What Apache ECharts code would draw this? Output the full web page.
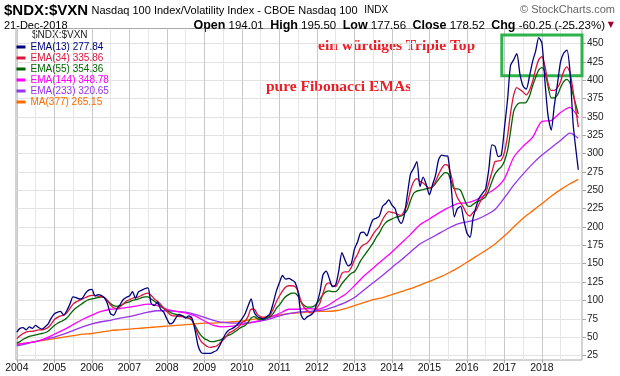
<!DOCTYPE html>
<html>
<head>
<meta charset="utf-8">
<script src="https://cdn.jsdelivr.net/npm/echarts@6/dist/echarts.min.js"></script>
<style>
  html, body { margin: 0; padding: 0; background: #fff; }
  #chart { width: 620px; height: 376px; }
</style>
</head>
<body>
<div id="chart"></div>
<script>
// Nasdaq 100 / VXN ratio with Fibonacci EMAs (weekly)
const years = [2004, 2005, 2006, 2007, 2008, 2009, 2010, 2011, 2012, 2013, 2014, 2015, 2016, 2017, 2018];
const yTicks = [25, 50, 75, 100, 125, 150, 175, 200, 225, 250, 275, 300, 325, 350, 375, 400, 425, 450];
const lastDate = "2018-12-21";

// monthly points, last one is the final bar
const ema13 = [
  57, 62, 63, 60, 64, 62, 66, 63, 61, 64, 68, 76,
  82, 84, 85, 80, 86, 95, 105, 104, 102, 103, 110, 114,
  115, 106, 108, 107, 104, 96, 82, 80, 88, 94, 101, 104,
  106, 112, 103, 112, 114, 116, 117, 96, 93, 98, 88, 84,
  75, 68, 70, 77, 81, 79, 76, 79, 76, 60, 38, 29,
  28, 28, 28, 30, 32, 39, 48, 56, 60, 62, 65, 69,
  75, 82, 92, 102, 84, 78, 76, 75, 78, 82, 96, 112,
  124, 134, 129, 130, 128, 125, 112, 80, 74, 78, 80, 84,
  96, 112, 135, 140, 130, 119, 121, 140, 165, 155, 147, 150,
  170, 180, 192, 193, 188, 200, 210, 212, 215, 228, 232, 237,
  230, 225, 212, 205, 216, 245, 272, 280, 289, 255, 268, 258,
  244, 258, 270, 292, 298, 297, 296, 255, 214, 225, 228, 210,
  192, 186, 212, 228, 240, 246, 252, 278, 312, 310, 296, 298,
  335, 375, 420, 428, 436, 408, 392, 388, 405, 425, 440, 458,
  450, 395, 352, 332, 365, 395, 425, 437, 441, 412, 340, 278
];
const ema34 = [
  48, 52, 55, 57, 58, 58, 59, 60, 60, 61, 63, 68,
  74, 77, 79, 80, 83, 89, 95, 98, 100, 102, 104, 106,
  107, 107, 106, 105, 104, 100, 94, 90, 89, 91, 95, 99,
  101, 103, 104, 105, 107, 109, 110, 107, 102, 99, 95, 90,
  85, 81, 79, 79, 78, 78, 77, 76, 74, 64, 52, 44,
  40, 37, 36, 37, 38, 42, 46, 51, 56, 58, 61, 64,
  70, 72, 78, 88, 88, 81, 78, 77, 78, 80, 88, 98,
  106, 113, 118, 120, 120, 119, 113, 98, 90, 86, 83, 84,
  90, 97, 110, 122, 124, 120, 119, 126, 137, 139, 139, 145,
  155, 163, 172, 176, 178, 183, 190, 196, 201, 210, 217, 221,
  220, 219, 217, 216, 222, 232, 250, 262, 266, 262, 260, 256,
  253, 255, 262, 272, 280, 285, 284, 270, 252, 240, 233, 226,
  218, 215, 220, 223, 232, 240, 246, 260, 275, 289, 290, 291,
  302, 325, 355, 380, 390, 387, 384, 380, 386, 398, 415, 428,
  432, 418, 396, 386, 386, 390, 398, 412, 418, 410, 385, 336
];
const ema55 = [
  42, 44, 47, 49, 51, 52, 53, 54, 55, 56, 58, 62,
  66, 69, 71, 73, 76, 81, 86, 90, 93, 96, 99, 101,
  102, 103, 104, 105, 104, 100, 96, 93, 92, 93, 95, 97,
  98, 100, 101, 102, 104, 105, 105, 102, 99, 96, 93, 89,
  86, 84, 82, 81, 80, 79, 77, 76, 73, 66, 58, 52,
  48, 46, 44, 44, 45, 46, 48, 51, 53, 55, 58, 61,
  64, 66, 70, 76, 78, 75, 74, 74, 76, 78, 82, 89,
  94, 100, 105, 108, 110, 110, 106, 98, 93, 91, 91, 92,
  96, 102, 108, 112, 113, 112, 112, 116, 123, 128, 133, 137,
  139, 146, 154, 160, 166, 172, 178, 186, 192, 200, 206, 209,
  211, 213, 214, 215, 218, 224, 236, 246, 249, 250, 251, 252,
  253, 255, 259, 265, 270, 274, 273, 262, 252, 252, 250, 240,
  230, 228, 231, 234, 236, 238, 241, 250, 262, 272, 278, 282,
  290, 305, 330, 358, 366, 369, 369, 370, 378, 392, 404, 414,
  417, 410, 392, 376, 376, 380, 390, 398, 401, 396, 380, 354
];
// quarterly points (Jan, Apr, Jul, Oct) plus the final bar
const ema144 = [
  40, 42, 44, 48,   54, 60, 67, 74,   80, 85, 88, 89,   91, 93, 95, 93,
  88, 85, 83, 79,   72, 66, 64, 65,   67, 70, 73, 77,   82, 88, 88, 89,
  88, 92, 100, 108, 120, 133, 144, 155, 166, 178, 190, 203, 211, 219, 226, 232,
  233, 237, 244, 252, 266, 295, 310, 322, 344, 345, 356, 363, 349
];
const ema233 = [
  38, 41, 44, 47,   50, 54, 59, 64,   68, 71, 73, 76,   78, 81, 84, 86,
  86, 85, 84, 81,   77, 73, 70, 69,   69, 70, 72, 75,   79, 82, 84, 85,
  86, 88, 92, 97,   104, 114, 124, 134, 145, 155, 166, 177, 184, 191, 198, 204,
  207, 210, 216, 224, 240, 257, 272, 286, 298, 308, 318, 328, 321
];
const ma377 = [
  40, 42, 44, 46,   48, 50, 52, 54,   55, 57, 59, 60,   61, 62, 63, 64,
  65, 66, 67, 68,   69, 69, 70, 71,   72, 74, 76, 78,   80, 82, 83, 84,
  85, 85, 86, 89,   93, 97, 101, 104, 108, 112, 116, 121, 126, 131, 137, 144,
  152, 160, 168, 177, 188, 200, 212, 222, 232, 242, 251, 259, 265
];

const names = ["EMA(13) 277.84", "EMA(34) 335.86", "EMA(55) 354.36", "EMA(144) 348.78", "EMA(233) 320.65", "MA(377) 265.15"];
const colors = ["#00007f", "#dc143c", "#006400", "#ff00ff", "#9933ee", "#ff6a00"];

function pad(n) { return n < 10 ? "0" + n : "" + n; }
let months = [];
let quarters = [];
years.forEach(function (y) {
  for (let m = 1; m <= 12; m++) months.push(y + "-" + pad(m) + "-01");
  [1, 4, 7, 10].forEach(function (m) { quarters.push(y + "-" + pad(m) + "-01"); });
});
months[months.length - 1] = lastDate;
quarters.push(lastDate);

function pairs(dates, vals) {
  return vals.map(function (v, i) { return [dates[i], v]; });
}

let yearStarts = years.map(function (y) { return y + "-01-01"; });
let midYears = years.map(function (y) { return y + "-07-01"; });

let chart = echarts.init(document.getElementById("chart"));
let font = "'Liberation Sans', Arial, sans-serif";
let serif = "'Liberation Serif', 'Times New Roman', serif";

let seriesData = [
  pairs(months, ema13), pairs(months, ema34), pairs(months, ema55),
  pairs(quarters, ema144), pairs(quarters, ema233), pairs(quarters, ma377)
];
let series = [];
for (let i = 5; i >= 0; i--) {
  let s = {
    name: names[i],
    type: "line",
    data: seriesData[i],
    showSymbol: false,
    symbol: "none",
    smooth: 0.25,
    lineStyle: { color: colors[i], width: 1.3 },
    itemStyle: { color: colors[i] },
    z: 10 - i
  };
  if (i === 0) {
    // green "triple top" box
    s.markArea = {
      silent: true,
      itemStyle: { color: "rgba(0,0,0,0)", borderColor: "#2db34a", borderWidth: 3 },
      data: [[{ coord: ["2016-12-06", 461.5] }, { coord: ["2019-01-26", 406] }]]
    };
  }
  series.push(s);
}

let option = {
  animation: false,
  textStyle: { fontFamily: font },
  grid: {
    left: 16, right: 38, top: 28.5, bottom: 16,
    show: true, borderColor: "#a8a8a8", borderWidth: 1, backgroundColor: "#fff"
  },
  legend: {
    orient: "vertical",
    left: 16.5, top: 41.5,
    padding: 0,
    itemGap: 0,
    itemWidth: 9,
    itemHeight: 3,
    icon: "rect",
    selectedMode: false,
    data: names.map(function (n, i) {
      return { name: n, textStyle: { color: colors[i] } };
    }),
    textStyle: { fontSize: 10, lineHeight: 11, fontFamily: font }
  },
  xAxis: [
    {
      type: "time",
      min: "2003-12-24",
      max: "2019-01-26",
      axisLine: { show: false },
      axisTick: { show: true, length: 3, lineStyle: { color: "#a8a8a8" }, customValues: yearStarts },
      axisLabel: {
        customValues: yearStarts,
        formatter: "{yyyy}",
        color: "#111",
        fontSize: 10.5,
        margin: 3
      },
      splitLine: { show: true, lineStyle: { color: "#c9c9c9", width: 1 } }
    },
    {
      type: "time",
      min: "2003-12-24",
      max: "2019-01-26",
      axisLine: { show: false },
      axisTick: { show: false, customValues: midYears },
      axisLabel: { show: false, customValues: midYears },
      splitLine: { show: true, lineStyle: { color: "#e6e6e6", width: 1 } }
    }
  ],
  yAxis: {
    type: "value",
    position: "right",
    min: 18.9,
    max: 470.4,
    axisLine: { show: false },
    axisTick: { show: true, length: 4, inside: false, lineStyle: { color: "#a8a8a8" }, customValues: yTicks },
    axisLabel: { customValues: yTicks, color: "#222", fontSize: 10, margin: 5 },
    splitLine: { show: true, lineStyle: { color: "#e3e3e3", width: 1 } }
  },
  graphic: [
    {
      type: "text", left: 4, top: 3,
      style: {
        text: "{t|$NDX:$VXN} {s|Nasdaq 100 Index/Volatility Index - CBOE Nasdaq 100}  {x|INDX}",
        rich: {
          t: { fontSize: 15, fontWeight: "bold", fontFamily: font, fill: "#000" },
          s: { fontSize: 11, fontFamily: font, fill: "#000" },
          x: { fontSize: 10, fontFamily: font, fill: "#000" }
        }
      }
    },
    {
      type: "text", right: 5, top: 4,
      style: { text: "\u00a9 StockCharts.com", fontSize: 11, fontFamily: font, fill: "#666" }
    },
    {
      type: "text", left: 4, top: 20,
      style: { text: "21-Dec-2018", fontSize: 11, fontFamily: font, fill: "#000" }
    },
    {
      type: "text", right: 15, top: 19,
      style: {
        text: "{b|Open} 194.01  {b|High} 195.50  {b|Low} 177.56  {b|Close} 178.52  {b|Chg} -60.25 (-25.23%)",
        fontSize: 11.5, fontFamily: font, fill: "#000",
        rich: { b: { fontSize: 12.5, fontWeight: "bold", fontFamily: font, fill: "#000" } }
      }
    },
    {
      type: "text", right: 6, top: 21,
      style: { text: "\u25bc", fontSize: 8, fontFamily: "'DejaVu Sans'", fill: "#a0002a" }
    },
    {
      type: "text", left: 32, top: 30,
      style: { text: "$NDX:$VXN", fontSize: 10, fontFamily: font, fill: "#222" }
    },
    {
      type: "text", left: 318, top: 38,
      style: { text: "ein würdiges Triple Top", fontSize: 15.5, fontWeight: "bold", fontFamily: serif, fill: "#ee1c25" }
    },
    {
      type: "text", left: 266, top: 79,
      style: { text: "pure Fibonacci EMAs", fontSize: 15.5, fontWeight: "bold", fontFamily: serif, fill: "#ee1c25" }
    }
  ],
  series: series
};
chart.setOption(option);
</script>
</body>
</html>
